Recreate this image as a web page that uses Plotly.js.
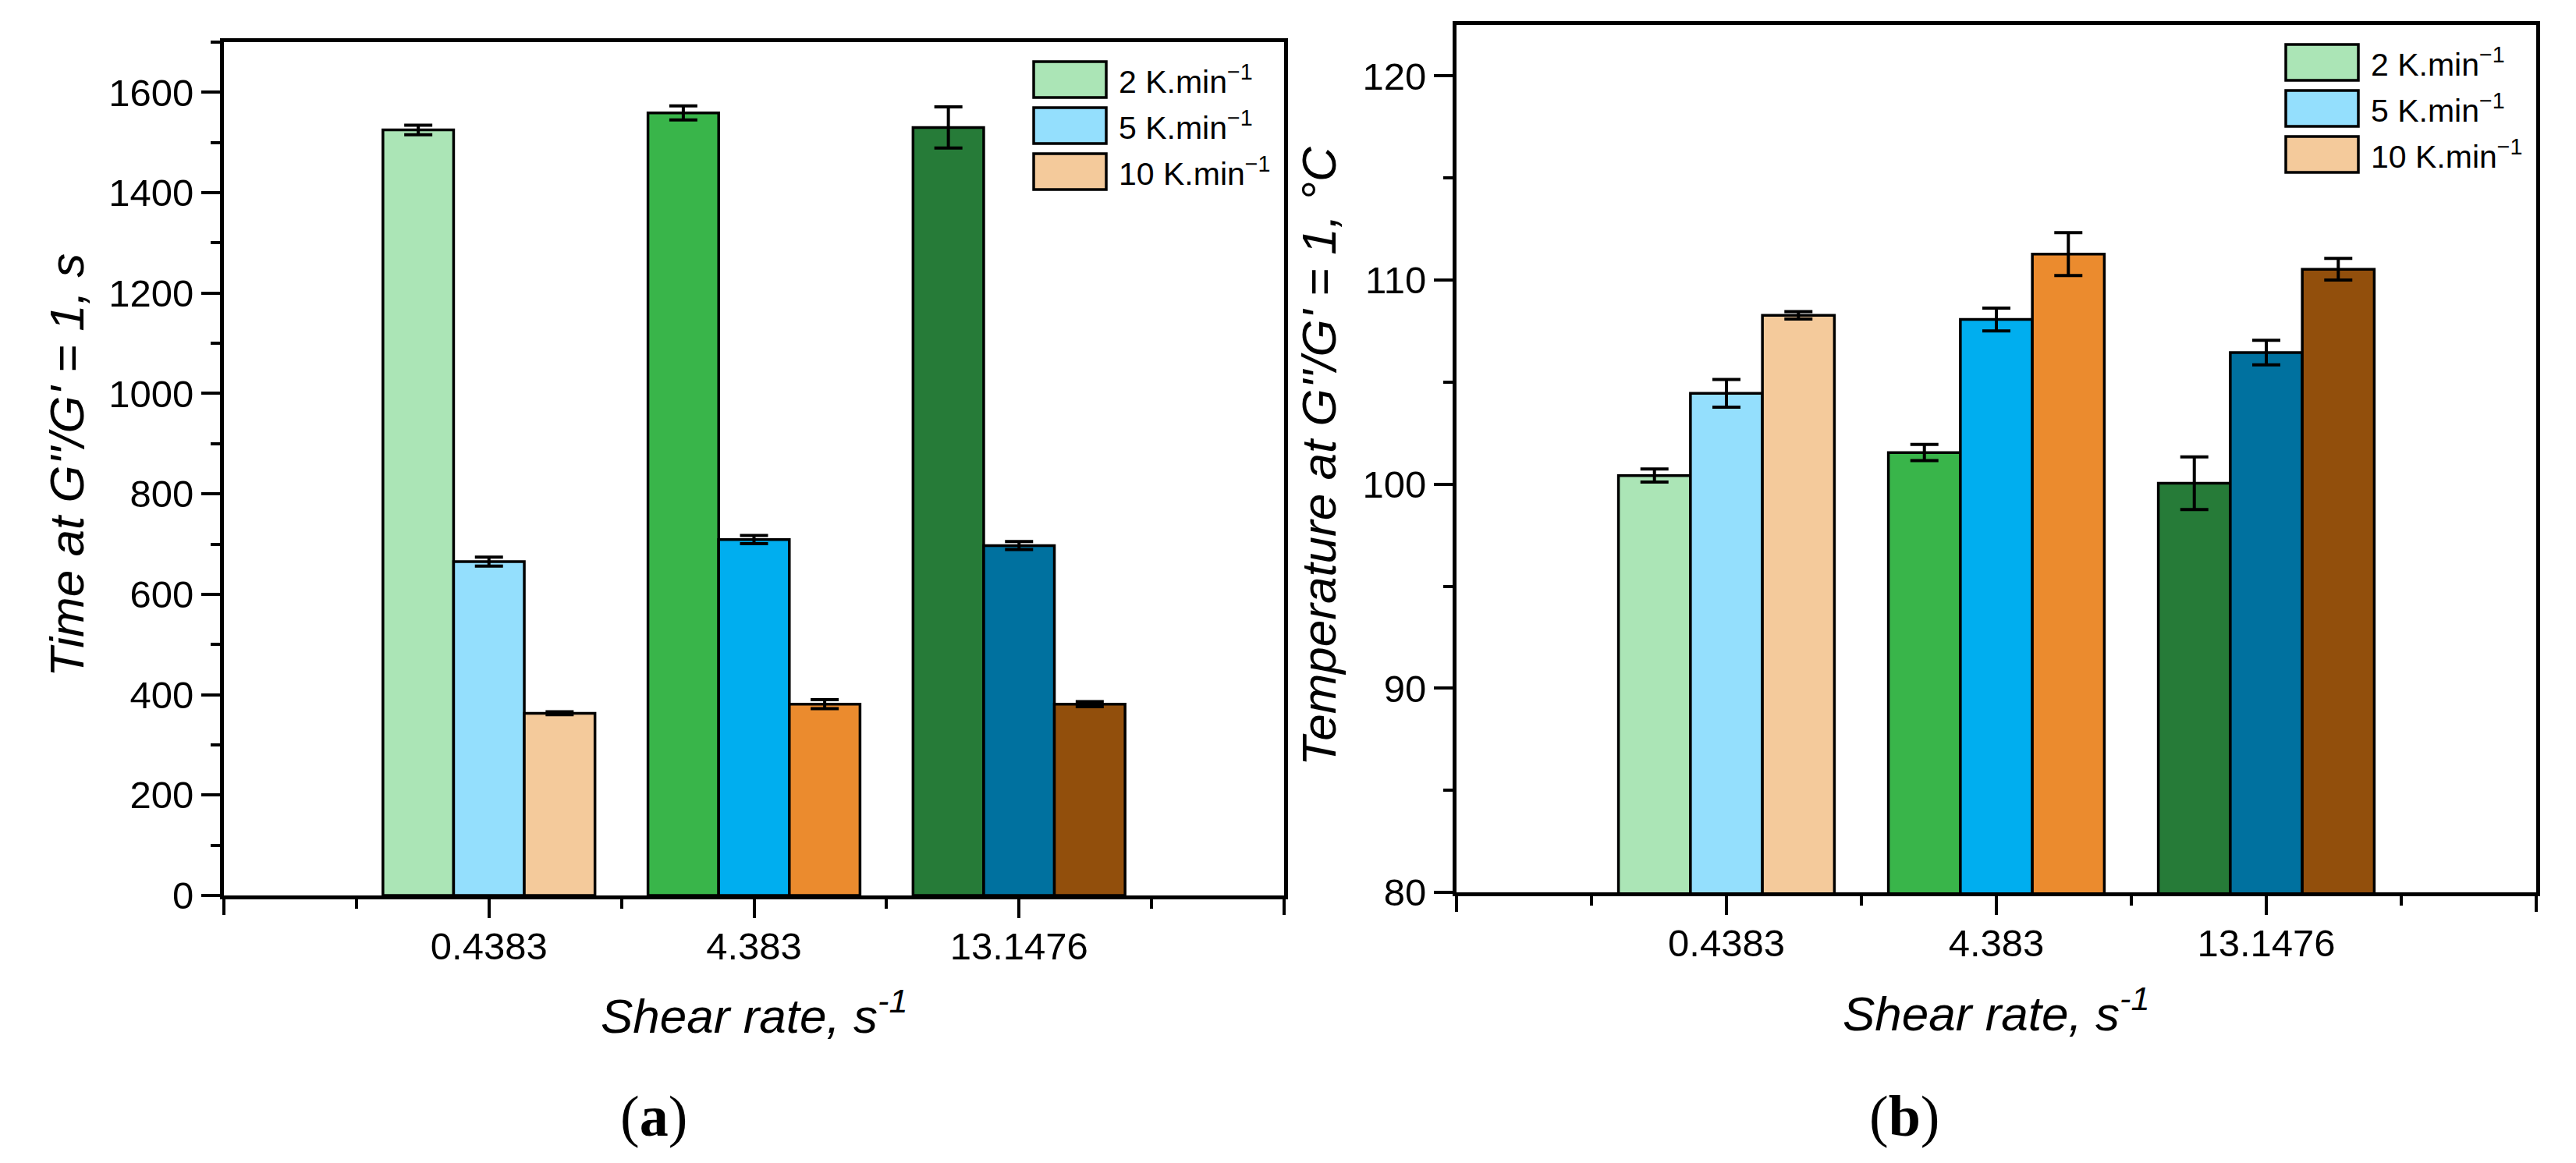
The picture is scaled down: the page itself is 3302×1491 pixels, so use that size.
<!DOCTYPE html>
<html>
<head>
<meta charset="utf-8">
<script src="https://cdn.plot.ly/plotly-3.0.1.min.js"></script>
<style>
  html, body { margin: 0; padding: 0; background: #fff; }
  #chart { width: 3302px; height: 1491px; }
</style>
</head>
<body>
<div id="chart"></div>
<script>
// shear rate categories (s^-1) and heating-rate series
const shearRates = ['0.4383', '4.383', '13.1476'];
const seriesNames = ['2 K.min<sup>−1</sup>', '5 K.min<sup>−1</sup>', '10 K.min<sup>−1</sup>'];

// (a) time at G''/G' = 1, s
const time2K = [1525, 1559, 1530];
const time5K = [665, 709, 697];
const time10K = [363, 381, 381];
const time2KErr = [9.5, 14, 41];
const time5KErr = [9, 8, 8];
const time10KErr = [3, 9, 5];

// (b) temperature at G''/G' = 1, °C
const temp2K = [100.42, 101.55, 100.05];
const temp5K = [104.45, 108.07, 106.45];
const temp10K = [108.27, 111.27, 110.53];
const temp2KErr = [0.32, 0.4, 1.29];
const temp5KErr = [0.68, 0.56, 0.6];
const temp10KErr = [0.18, 1.05, 0.53];

// colours: one per shear rate, light -> dark
const colors2K = ['#abe5b6', '#39b54a', '#267b38'];
const colors5K = ['#94dffd', '#00aeef', '#00719f'];
const colors10K = ['#f4ca9b', '#eb8b2e', '#924f0c'];

const W = 3302, H = 1491;
const FONT = 'Liberation Sans, Arial, sans-serif';
const panelA = { l: 287, r: 1646, t: 54, b: 1148 };
const panelB = { l: 1867, r: 3251, t: 32, b: 1144 };

const px = x => x / W;
const py = y => 1 - y / H;
const xPos = shearRates.map((_, i) => i + 1);
const xRange = [0, xPos.length + 1];

function barTrace(name, y, err, colors, ax) {
    return {
        type: 'bar',
        name: name,
        x: xPos,
        y: y,
        xaxis: 'x' + ax,
        yaxis: 'y' + ax,
        showlegend: false,
        marker: { color: colors, line: { color: '#000', width: 3.5 } },
        error_y: { type: 'data', array: err, visible: true, color: '#000', thickness: 4, width: 18 }
    };
}

function xAxis(p, anchor) {
    return {
        domain: [px(p.l), px(p.r)],
        anchor: anchor,
        range: xRange,
        tickmode: 'array',
        tickvals: xPos,
        ticktext: shearRates,
        ticks: 'outside', ticklen: 24, tickwidth: 4, tickcolor: '#000',
        ticklabelstandoff: -6,
        minor: { dtick: 0.5, tick0: 0, ticks: 'outside', ticklen: 12, tickwidth: 4, tickcolor: '#000' },
        showline: true, linewidth: 5, linecolor: '#000', mirror: true,
        showgrid: false, zeroline: false, automargin: false,
        tickfont: { family: FONT, size: 49, color: '#000' },
        fixedrange: true
    };
}

// long ticks at both ends of the category axis, no labels
function edgeAxis(over, anchor) {
    return {
        overlaying: over, anchor: anchor, range: xRange,
        tickmode: 'array', tickvals: xRange, showticklabels: false,
        ticks: 'outside', ticklen: 24, tickwidth: 4, tickcolor: '#000',
        showline: false, showgrid: false, zeroline: false, fixedrange: true
    };
}

function yAxis(p, anchor, range, dtick) {
    return {
        domain: [py(p.b), py(p.t)],
        anchor: anchor,
        range: range,
        tick0: range[0], dtick: dtick,
        ticks: 'outside', ticklen: 24, tickwidth: 4, tickcolor: '#000',
        minor: { dtick: dtick / 2, ticks: 'outside', ticklen: 12, tickwidth: 4, tickcolor: '#000' },
        showline: true, linewidth: 5, linecolor: '#000', mirror: true,
        showgrid: false, zeroline: false, automargin: false,
        tickfont: { family: FONT, size: 49, color: '#000' },
        fixedrange: true
    };
}

const traces = [
    barTrace(seriesNames[0], time2K, time2KErr, colors2K, ''),
    barTrace(seriesNames[1], time5K, time5KErr, colors5K, ''),
    barTrace(seriesNames[2], time10K, time10KErr, colors10K, ''),
    barTrace(seriesNames[0], temp2K, temp2KErr, colors2K, '2'),
    barTrace(seriesNames[1], temp5K, temp5KErr, colors5K, '2'),
    barTrace(seriesNames[2], temp10K, temp10KErr, colors10K, '2'),
    // invisible carriers so the edge-tick axes get drawn
    { type: 'scatter', x: [], y: [], xaxis: 'x3', yaxis: 'y', showlegend: false, hoverinfo: 'skip' },
    { type: 'scatter', x: [], y: [], xaxis: 'x4', yaxis: 'y2', showlegend: false, hoverinfo: 'skip' }
];

// hand-drawn legend with the large swatches of the original
const shapes = [];
const annotations = [];
const legendColors = [colors2K[0], colors5K[0], colors10K[0]];
[panelA, panelB].forEach(p => {
    seriesNames.forEach((name, i) => {
        const top = p.t + 25 + 59 * i;
        shapes.push({
            type: 'rect', xref: 'paper', yref: 'paper',
            x0: px(p.r - 321), x1: px(p.r - 228), y0: py(top + 46), y1: py(top),
            fillcolor: legendColors[i], line: { color: '#000', width: 3.5 }
        });
        annotations.push({
            xref: 'paper', yref: 'paper', x: px(p.r - 214), y: py(top + 23),
            xanchor: 'left', yanchor: 'middle', showarrow: false,
            text: name, font: { family: FONT, size: 41, color: '#000' }
        });
    });
});

function title(text, x, y, angle) {
    annotations.push({
        xref: 'paper', yref: 'paper', x: px(x), y: py(y),
        xanchor: 'center', yanchor: 'middle', showarrow: false, textangle: angle,
        text: text, font: { family: FONT, size: 62, color: '#000', style: 'italic' }
    });
}
title("Time at G''/G' = 1, s", 85, (panelA.t + panelA.b) / 2 - 4, -90);
title("Temperature at G''/G' = 1, °C", 1690, (panelB.t + panelB.b) / 2 - 3, -90);
title('Shear rate, s<sup>-1</sup>', (panelA.l + panelA.r) / 2, 1298, 0);
title('Shear rate, s<sup>-1</sup>', (panelB.l + panelB.r) / 2, 1295, 0);

[['a', 838], ['b', 2441]].forEach(([k, x]) => {
    annotations.push({
        xref: 'paper', yref: 'paper', x: px(x), y: py(1431),
        xanchor: 'center', yanchor: 'middle', showarrow: false,
        text: '(<b>' + k + '</b>)',
        font: { family: 'Liberation Serif, Times New Roman, serif', size: 74, color: '#000' }
    });
});

const layout = {
    width: W, height: H,
    margin: { l: 0, r: 0, t: 0, b: 0 },
    paper_bgcolor: '#fff', plot_bgcolor: '#fff',
    barmode: 'group', bargap: 0.2, bargroupgap: 0,
    showlegend: false,
    xaxis: xAxis(panelA, 'y'),
    yaxis: yAxis(panelA, 'x', [0, 1700], 200),
    xaxis2: xAxis(panelB, 'y2'),
    yaxis2: yAxis(panelB, 'x2', [80, 122.5], 10),
    xaxis3: edgeAxis('x', 'y'),
    xaxis4: edgeAxis('x2', 'y2'),
    shapes: shapes,
    annotations: annotations
};

Plotly.newPlot('chart', traces, layout, { displayModeBar: false, staticPlot: true });
</script>
</body>
</html>
